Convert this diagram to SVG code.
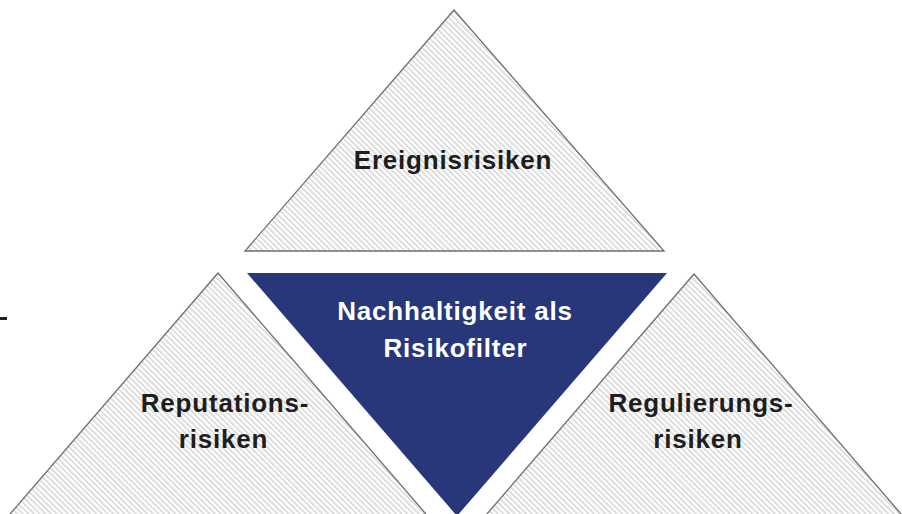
<svg xmlns="http://www.w3.org/2000/svg" width="902" height="514" viewBox="0 0 902 514">
  <defs>
    <pattern id="hatch" width="4" height="4" patternUnits="userSpaceOnUse" patternTransform="rotate(-45)">
      <rect width="4" height="4" fill="#ffffff"/>
      <rect width="1.5" height="4" fill="#d4d4d4"/>
    </pattern>
  </defs>
  <style>
    .tri { fill: url(#hatch); stroke: #6e6e6e; stroke-width: 1.3; stroke-linejoin: miter; }
    .core { fill: #28377a; stroke: none; }
    .lbl { font-family: "Liberation Sans", Arial, sans-serif; font-weight: bold; font-size: 26px; letter-spacing: 0.8px; text-anchor: middle; fill: #1e1e1e; }
    .lbl-w { fill: #ffffff; }
  </style>
  <rect width="902" height="514" fill="#ffffff"/>
  <rect x="0" y="317" width="7" height="3" fill="#222222"/>
  <g id="node-ereignisrisiken">
    <polygon class="tri" points="454,10 245,251 664,251"/>
    <text class="lbl" x="453" y="169">Ereignisrisiken</text>
  </g>
  <g id="node-reputationsrisiken">
    <polygon class="tri" points="218,273 -2,528 438,528"/>
    <text class="lbl" x="225" y="412">Reputations-</text>
    <text class="lbl" x="223.5" y="448">risiken</text>
  </g>
  <g id="node-regulierungsrisiken">
    <polygon class="tri" points="694,274 474,529 914,529"/>
    <text class="lbl" x="701" y="412">Regulierungs-</text>
    <text class="lbl" x="698" y="448">risiken</text>
  </g>
  <g id="node-nachhaltigkeit">
    <polygon class="core" points="247,273 667,273 457,516"/>
    <text class="lbl lbl-w" x="455" y="320">Nachhaltigkeit als</text>
    <text class="lbl lbl-w" x="455.5" y="357">Risikofilter</text>
  </g>
</svg>
